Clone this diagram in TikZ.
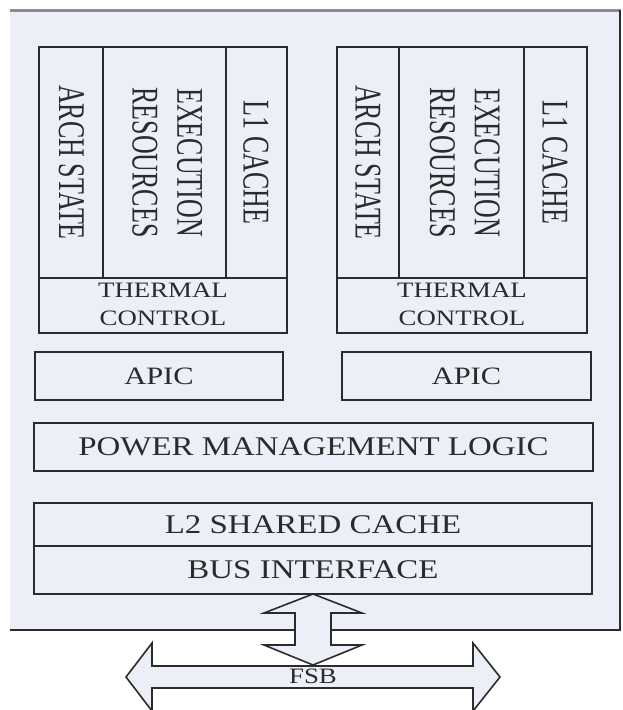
\documentclass[tikz,border=0pt]{standalone}
\usepackage{fontspec}
\setmainfont{Liberation Serif}
\usetikzlibrary{calc}
\definecolor{panel}{HTML}{ECEFF7}
\definecolor{ink}{HTML}{2B2B2B}
\definecolor{rim}{HTML}{8A8C90}
\newcommand\wide[1]{\scalebox{1.22}[1]{#1}}
\newcommand\tall[1]{\scalebox{1}[1.45]{#1}}
\tikzset{
  box/.style={line width=2pt, draw=ink},
  lbl/.style={text=ink, inner sep=0pt},
  vlbl/.style={lbl, rotate=-90, font=\fontsize{26}{31}\selectfont},
}

\begin{document}
\begin{tikzpicture}[x=1pt, y=-1pt]
		%%%%% START %%%%%
		\useasboundingbox (0, 0) rectangle (623, 710);
		
		% chip
		\fill[panel] (10, 10) rectangle (620, 630);
		\draw[line width=3pt, color=rim] (10, 10) -- (621, 10);
		\draw[line width=1.8pt, color=ink] (620, 10) -- (620, 630) -- (10, 630);
		
		% left core
		\draw[box] (39, 47) rectangle (287, 333);
		\draw[box] (103, 47) -- (103, 278);
		\draw[box] (226, 47) -- (226, 278);
		\draw[box] (39, 278) -- (287, 278);
		\node[vlbl] (archL) at (71.5, 162.5) {\tall{ARCH STATE}};
		\node[vlbl] (execL) at (164, 162.5) {\tall{\begin{tabular}{@{}c@{}}EXECUTION\\RESOURCES\end{tabular}}};
		\node[vlbl] (lonecL) at (256, 162.5) {\tall{L1 CACHE}};
		\node[lbl, font=\fontsize{22}{28}\selectfont] (thermL) at (163, 305.5) {\wide{\begin{tabular}{@{}c@{}}THERMAL\\CONTROL\end{tabular}}};
		
		% right core
		\draw[box] (337, 47) rectangle (587, 333);
		\draw[box] (399, 47) -- (399, 278);
		\draw[box] (524, 47) -- (524, 278);
		\draw[box] (337, 278) -- (587, 278);
		\node[vlbl] (archR) at (368, 162.5) {\tall{ARCH STATE}};
		\node[vlbl] (execR) at (461.5, 162.5) {\tall{\begin{tabular}{@{}c@{}}EXECUTION\\RESOURCES\end{tabular}}};
		\node[vlbl] (lonecR) at (555, 162.5) {\tall{L1 CACHE}};
		\node[lbl, font=\fontsize{22}{28}\selectfont] (thermR) at (462, 305.5) {\wide{\begin{tabular}{@{}c@{}}THERMAL\\CONTROL\end{tabular}}};
		
		% apic
		\draw[box] (35, 352) rectangle (283, 400);
		\node[lbl, font=\fontsize{25}{30}\selectfont] (apicL) at (159, 376) {\wide{APIC}};
		\draw[box] (342, 352) rectangle (591, 400);
		\node[lbl, font=\fontsize{25}{30}\selectfont] (apicR) at (466.5, 376) {\wide{APIC}};
		
		% power management
		\draw[box] (34, 423) rectangle (593, 471);
		\node[lbl, font=\fontsize{27}{32}\selectfont] (pml) at (313.5, 447) {\wide{POWER MANAGEMENT LOGIC}};
		
		% l2 and bus
		\draw[box] (34, 503) rectangle (592, 594);
		\draw[box] (34, 546) -- (592, 546);
		\node[lbl, font=\fontsize{27}{32}\selectfont] (ltwo) at (313, 525) {\wide{L2 SHARED CACHE}};
		\node[lbl, font=\fontsize{27}{32}\selectfont] (bus) at (313, 570) {\wide{BUS INTERFACE}};
		
		% fsb
		\draw[line width=1.6pt, color=ink, fill=panel] (126, 677) -- (152, 643) -- (152, 666) -- (473, 666) -- (473, 643) -- (500, 677) -- (473, 711) -- (473, 688) -- (152, 688) -- (152, 711) -- cycle;
		\draw[line width=1.6pt, color=ink, fill=panel] (313, 594) -- (362, 613) -- (331, 613) -- (331, 645) -- (362, 645) -- (313, 665) -- (264, 645) -- (295, 645) -- (295, 613) -- (264, 613) -- cycle;
		\node[lbl, font=\fontsize{22}{26}\selectfont] (fsb) at (313, 676) {\wide{FSB}};
		
		%%%%% END %%%%%
	\end{tikzpicture}
\end{document}
